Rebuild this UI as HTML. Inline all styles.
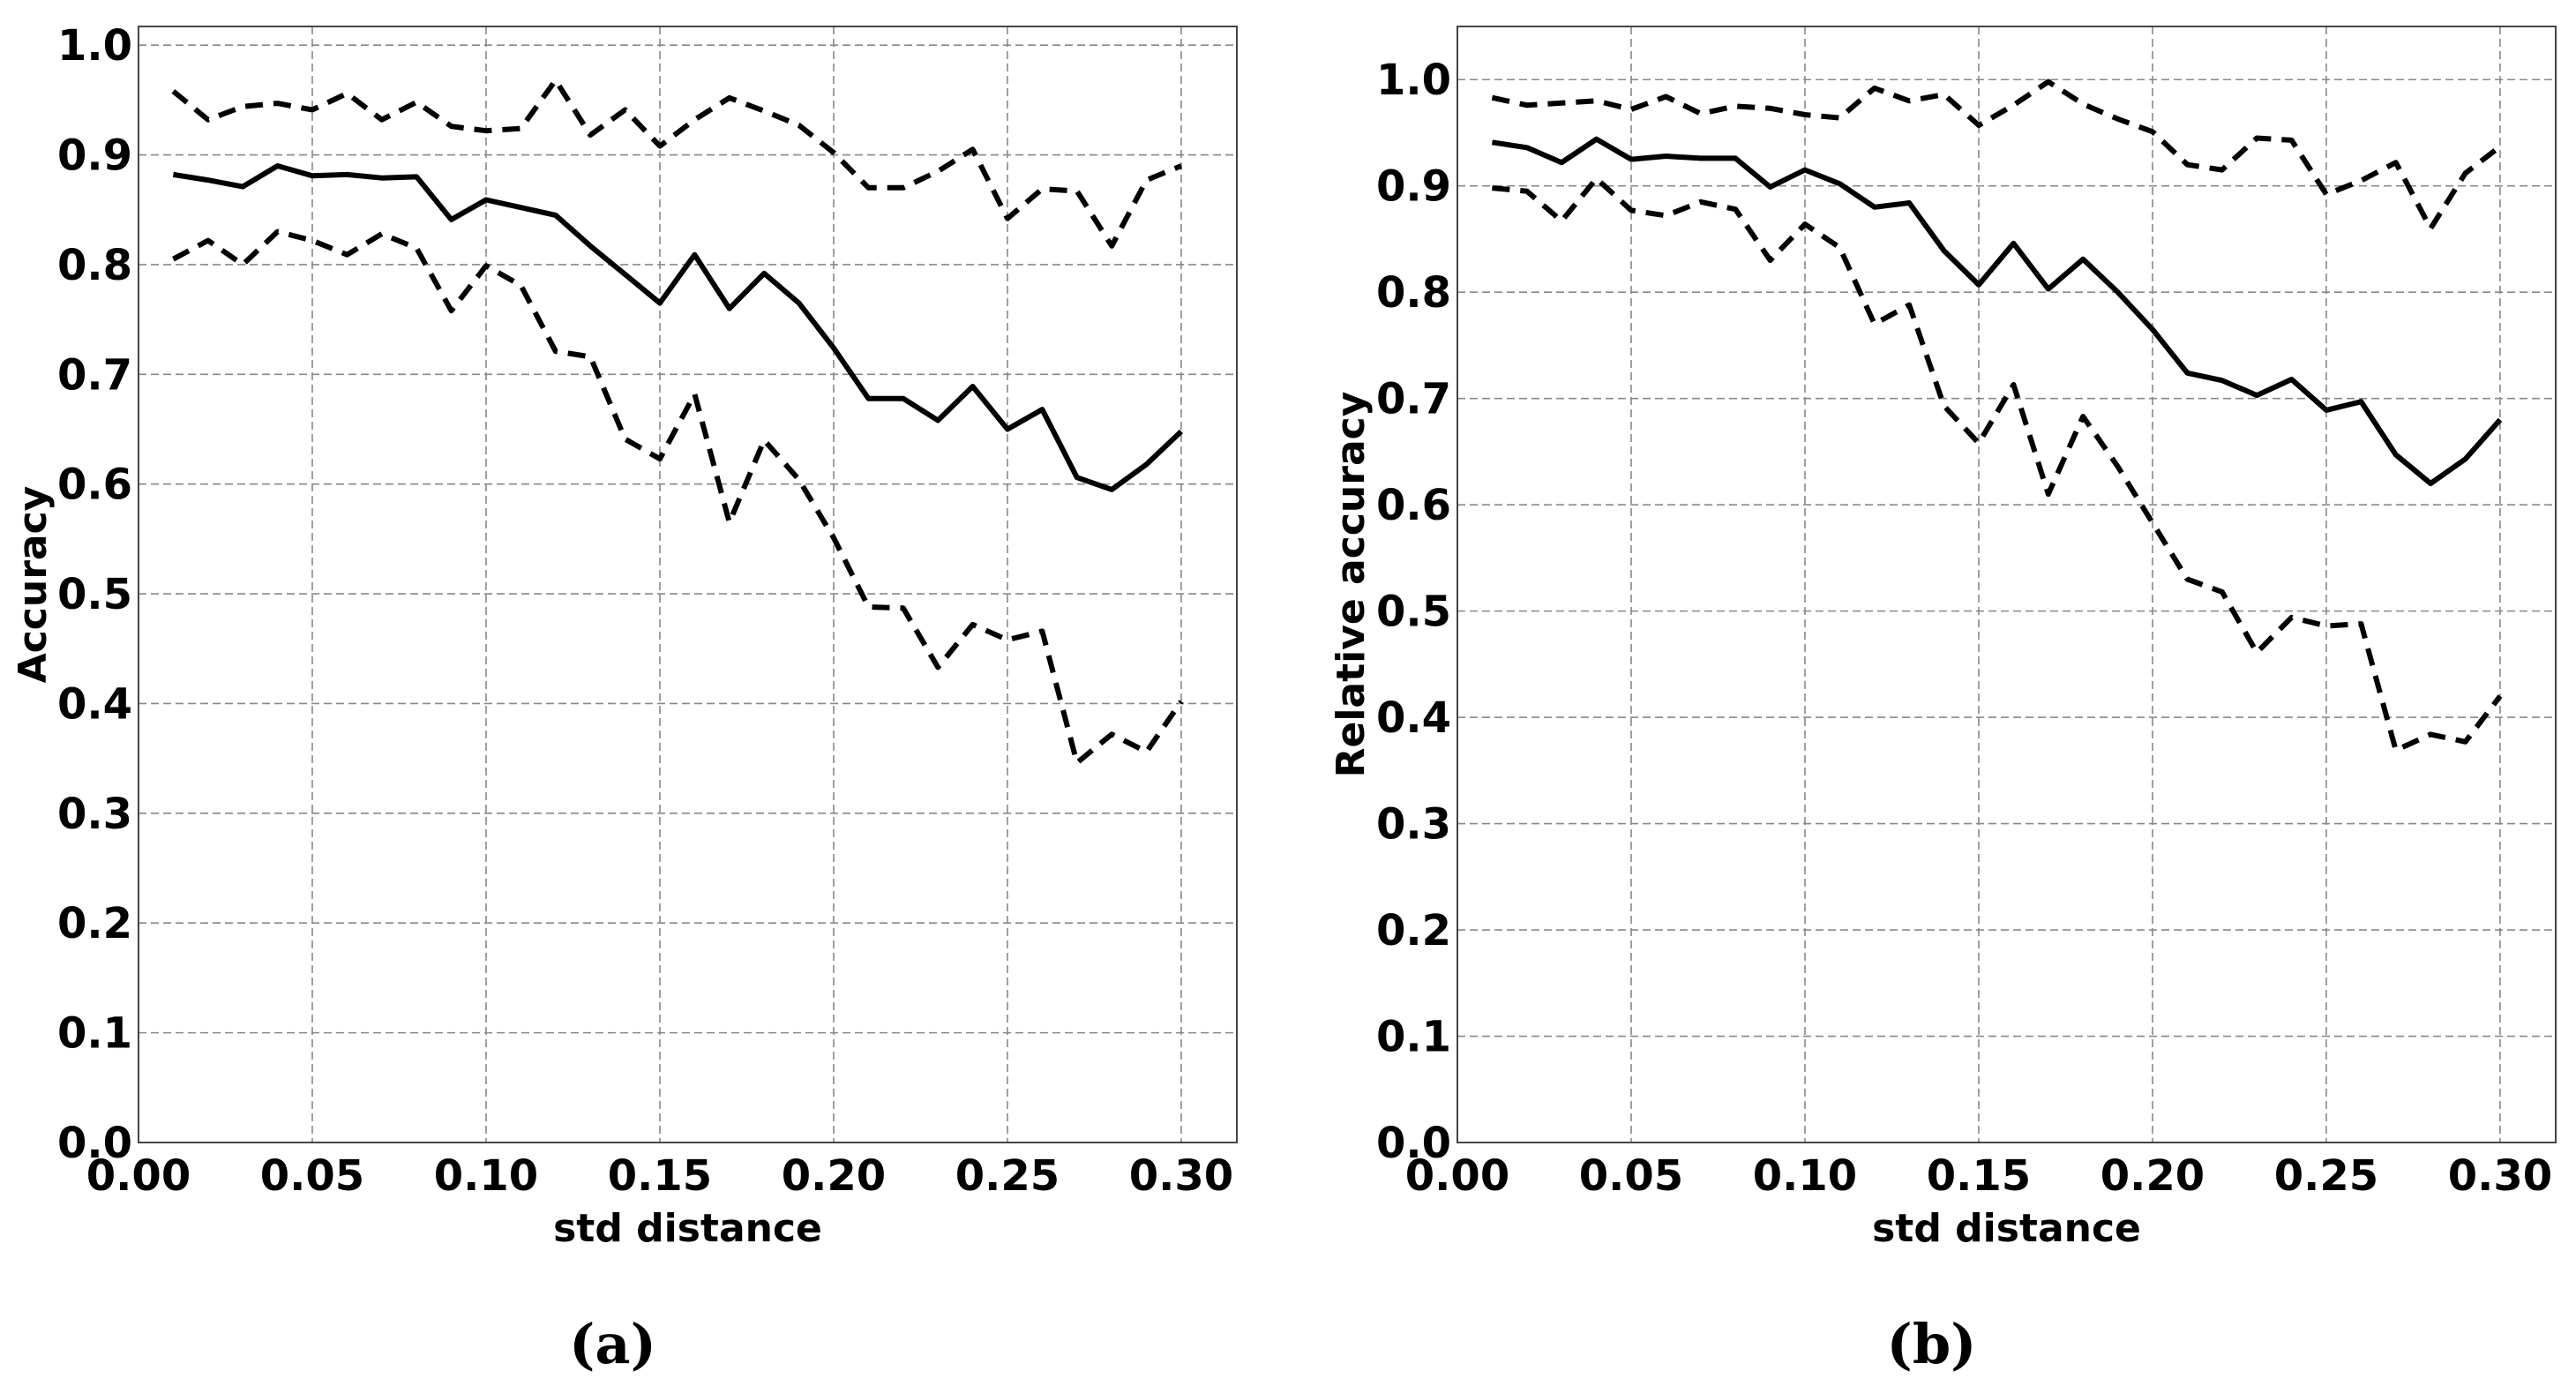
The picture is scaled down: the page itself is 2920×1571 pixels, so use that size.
<!DOCTYPE html>
<html><head><meta charset="utf-8">
<style>
html,body{margin:0;padding:0;background:#fff;}
svg{display:block;}
text{font-family:"DejaVu Sans","Liberation Sans",sans-serif;font-weight:bold;fill:#000;}
.cap{font-family:"DejaVu Serif","Liberation Serif",serif;}
</style></head>
<body>
<svg id="chart" width="2920" height="1571" viewBox="0 0 2920 1571" xmlns="http://www.w3.org/2000/svg"></svg>
<script>
const xValues = [0.01,0.02,0.03,0.04,0.05,0.06,0.07,0.08,0.09,0.10,0.11,0.12,0.13,0.14,0.15,0.16,0.17,0.18,0.19,0.20,0.21,0.22,0.23,0.24,0.25,0.26,0.27,0.28,0.29,0.30];
const aMean = [0.882,0.877,0.871,0.890,0.881,0.882,0.879,0.880,0.841,0.859,0.852,0.845,0.817,0.791,0.765,0.809,0.760,0.792,0.765,0.724,0.678,0.678,0.658,0.689,0.650,0.668,0.606,0.595,0.618,0.648];
const aUpper = [0.958,0.932,0.944,0.947,0.941,0.956,0.932,0.948,0.926,0.922,0.924,0.968,0.918,0.941,0.908,0.932,0.952,0.940,0.927,0.902,0.870,0.870,0.885,0.905,0.842,0.869,0.867,0.817,0.877,0.890];
const aLower = [0.805,0.822,0.800,0.830,0.822,0.809,0.828,0.815,0.758,0.799,0.781,0.721,0.716,0.641,0.623,0.682,0.565,0.640,0.604,0.551,0.488,0.487,0.433,0.472,0.458,0.466,0.346,0.372,0.356,0.402];
const bMean = [0.941,0.936,0.922,0.944,0.925,0.928,0.926,0.926,0.899,0.915,0.902,0.880,0.884,0.839,0.807,0.846,0.803,0.831,0.800,0.765,0.724,0.717,0.703,0.718,0.689,0.697,0.647,0.620,0.643,0.680];
const bUpper = [0.983,0.976,0.978,0.980,0.972,0.984,0.968,0.975,0.973,0.967,0.964,0.992,0.980,0.986,0.957,0.976,0.998,0.977,0.963,0.951,0.920,0.915,0.945,0.943,0.892,0.905,0.922,0.860,0.912,0.937];
const bLower = [0.898,0.895,0.867,0.907,0.877,0.872,0.885,0.878,0.830,0.864,0.842,0.770,0.788,0.693,0.658,0.713,0.610,0.683,0.636,0.583,0.530,0.518,0.461,0.494,0.486,0.488,0.369,0.384,0.377,0.420];
const xTicks = [0,0.05,0.10,0.15,0.20,0.25,0.30];
const xTickLabels = ["0.00","0.05","0.10","0.15","0.20","0.25","0.30"];
const yTicks = [0,0.1,0.2,0.3,0.4,0.5,0.6,0.7,0.8,0.9,1.0];
const yTickLabels = ["0.0","0.1","0.2","0.3","0.4","0.5","0.6","0.7","0.8","0.9","1.0"];

const NS = "http://www.w3.org/2000/svg";
const svg = document.getElementById('chart');
function mk(tag, attrs, parent){
  const e = document.createElementNS(NS, tag);
  for (const k in attrs) e.setAttribute(k, attrs[k]);
  (parent||svg).appendChild(e);
  return e;
}
function panel(id, left, ymax, ylabel, ylabelX, caption, mean, upper, lower){
  const top = 30, bottom = 1295, width = 1245, xmax = 0.316;
  const g = mk('g', {});
  
  
  const xs = v => left + v / xmax * width;
  const ys = v => bottom - v / ymax * (bottom - top);
  xTicks.forEach((t, i) => {
    const l = mk('line', {x1: xs(t), x2: xs(t), y1: top, y2: bottom, stroke: '#888', 'stroke-width': 1.6, 'stroke-dasharray': '9,5'}, g);
    
    
    const tx = mk('text', {x: xs(t), y: 1349, 'font-size': 48, 'text-anchor': 'middle'}, g);
    
    
    tx.textContent = xTickLabels[i];
  });
  yTicks.forEach((t, i) => {
    const l = mk('line', {x1: left, x2: left + width, y1: ys(t), y2: ys(t), stroke: '#888', 'stroke-width': 1.6, 'stroke-dasharray': '9,5'}, g);
    
    
    const tx = mk('text', {x: left - 7, y: ys(t) + 17, 'font-size': 48, 'text-anchor': 'end'}, g);
    
    
    tx.textContent = yTickLabels[i];
  });
  const frame = mk('rect', {x: left, y: top, width: width, height: bottom - top, fill: 'none', stroke: '#444', 'stroke-width': 2}, g);
  
  
  function series(arr, name, dash){
    const pts = arr.map((v, i) => xs(xValues[i]).toFixed(1) + ',' + ys(v).toFixed(1)).join(' ');
    const p = mk('polyline', {points: pts, fill: 'none', stroke: '#000', 'stroke-width': 6, 'stroke-linejoin': 'round'}, g);
    if (dash) p.setAttribute('stroke-dasharray', '20,12');
    
    
  }
  series(upper, 'upper-bound-line', true);
  series(lower, 'lower-bound-line', true);
  series(mean, 'mean-line', false);
  const xl = mk('text', {x: left + width / 2, y: 1407, 'font-size': 44, 'text-anchor': 'middle'}, g);
  
  
  xl.textContent = 'std distance';
  const yl = mk('text', {x: 0, y: 0, 'font-size': 44, 'text-anchor': 'middle', transform: `translate(${ylabelX},${(top + bottom) / 2}) rotate(-90)`}, g);
  
  
  yl.textContent = ylabel;
  const cap = mk('text', {x: left + width / 2 - 85, y: 1545, 'font-size': 62, 'text-anchor': 'middle', class: 'cap'}, g);
  
  
  cap.textContent = caption;
}
panel('panel-a-accuracy', 157, 1.017, 'Accuracy', 52, '(a)', aMean, aUpper, aLower);
panel('panel-b-relative-accuracy', 1652, 1.05, 'Relative accuracy', 1546, '(b)', bMean, bUpper, bLower);
</script>
</body></html>
